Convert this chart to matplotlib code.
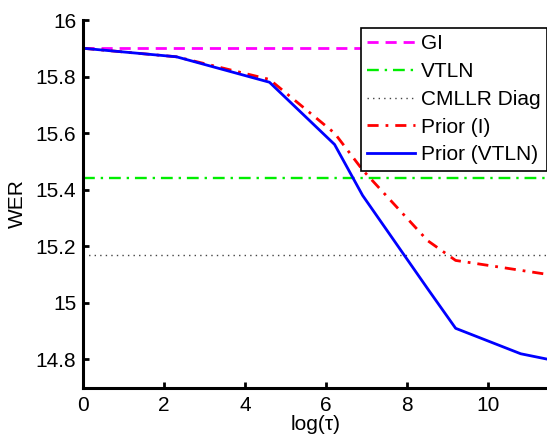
import numpy as np
import matplotlib
matplotlib.use("Agg")
import matplotlib.pyplot as plt

plt.rcParams['font.family'] = ['Liberation Sans', 'DejaVu Sans']

# log(tau) values
log_tau = [0.0, 2.303, 4.605, 6.215, 6.908, 8.517, 9.210, 10.82, 11.51]
prior_vtln = [15.90, 15.87, 15.78, 15.56, 15.38, 15.05, 14.91, 14.82, 14.80]
prior_i = [15.90, 15.87, 15.79, 15.60, 15.47, 15.22, 15.15, 15.115, 15.10]

# baselines
gi_wer = 15.90
vtln_wer = 15.44
cmllr_diag_wer = 15.17

fs = 15

fig = plt.figure(figsize=(5.47, 4.37), dpi=100)
ax = fig.add_axes([0.1523, 0.1128, 0.8477, 0.8414])

ax.axhline(gi_wer, color='#ff00ff', linestyle=(0, (4, 2.5)), linewidth=2.0, label='GI')
ax.axhline(vtln_wer, color='#00ee00', linestyle=(0, (5, 2.5, 1, 2.5)), linewidth=1.7, label='VTLN')
ax.axhline(cmllr_diag_wer, color='#444444', linestyle=(0, (1, 3)), linewidth=1.0, label='CMLLR Diag')
ax.plot(log_tau, prior_i, color='#ff0000', linestyle=(0, (4, 2.5, 1, 2.5)), linewidth=2.0, label='Prior (I)')
ax.plot(log_tau, prior_vtln, color='#0000ff', linestyle='-', linewidth=2.0, label='Prior (VTLN)')

ax.set_xlim(0, 11.47)
ax.set_ylim(14.7, 16)
ax.set_xticks([0, 2, 4, 6, 8, 10])
ax.set_yticks([14.8, 15, 15.2, 15.4, 15.6, 15.8, 16])
ax.set_yticklabels(['14.8', '15', '15.2', '15.4', '15.6', '15.8', '16'])

for s in ['top', 'right']:
    ax.spines[s].set_visible(False)
for s in ['left', 'bottom']:
    ax.spines[s].set_linewidth(2.2)
ax.tick_params(direction='in', length=4, width=2, labelsize=fs)
ax.tick_params(axis='x', pad=6)
ax.tick_params(axis='y', pad=5)

ax.set_xlabel('log(τ)', fontsize=fs, labelpad=0)
ax.set_ylabel('WER', fontsize=fs)
ax.yaxis.set_label_coords(-0.122, 0.5)

leg = ax.legend(loc='upper right', bbox_to_anchor=(1.0, 0.978), fontsize=fs,
                handlelength=2.3, handletextpad=0.3, labelspacing=0.42,
                borderpad=0.3, borderaxespad=0.0, fancybox=False, framealpha=1)
leg.get_frame().set_edgecolor('black')
leg.get_frame().set_linewidth(1.2)

fig.savefig('out.png', dpi=100)
